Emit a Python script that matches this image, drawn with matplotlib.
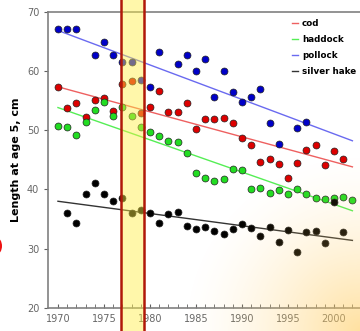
import numpy as np
import matplotlib
matplotlib.use('Agg')
import matplotlib.pyplot as plt
from matplotlib.patches import Rectangle, Ellipse

# значения длины в возрасте 5 лет, см
cod_years = [1970, 1971, 1972, 1973, 1974, 1975, 1976, 1977, 1978, 1979, 1980, 1981, 1982, 1983,
             1984, 1985, 1986, 1987, 1988, 1989, 1990, 1991, 1992, 1993, 1994, 1995, 1996, 1997,
             1998, 1999, 2000, 2001]
cod = [57.2, 53.8, 54.5, 52.2, 55.0, 55.4, 53.3, 57.8, 58.2, 52.8, 53.9, 56.6, 53.1, 53.1,
       54.6, 50.2, 51.9, 51.8, 52.1, 51.2, 48.7, 47.5, 44.6, 45.1, 44.3, 41.9, 44.5, 46.6,
       47.5, 44.1, 46.5, 45.2]

haddock_years = list(range(1970, 2003))
haddock = [50.7, 50.5, 49.2, 51.3, 53.4, 54.7, 52.3, 53.9, 52.4, 50.5, 49.7, 49.0, 48.2, 48.0,
           46.2, 42.8, 42.0, 41.4, 41.8, 43.4, 43.2, 40.1, 40.3, 39.4, 39.9, 39.2, 40.1, 39.3,
           38.6, 38.4, 38.5, 38.8, 38.2]

pollock_years = [1970, 1971, 1972, 1974, 1975, 1976, 1977, 1978, 1979, 1980, 1981, 1983, 1984,
                 1985, 1986, 1987, 1988, 1989, 1990, 1991, 1992, 1993, 1994, 1996, 1997]
pollock = [67.0, 67.0, 67.0, 62.7, 64.9, 62.7, 61.5, 61.5, 58.4, 57.2, 63.1, 61.1, 62.7,
           59.9, 62.0, 55.5, 60.0, 56.5, 54.8, 55.5, 57.0, 51.2, 47.6, 50.4, 51.4]

hake_years = list(range(1971, 2002))
hake = [36.0, 34.3, 39.3, 41.0, 39.3, 38.0, 38.6, 36.0, 36.6, 36.1, 34.3, 35.8, 36.2, 33.9,
        33.3, 33.6, 33.0, 32.4, 33.3, 34.1, 33.5, 32.1, 33.6, 31.2, 33.1, 29.5, 32.8, 33.0,
        30.9, 37.8, 32.8]

# концы линий тренда (1970 и 2002)
trend_years = [1970, 2002]
cod_trend = [57.3, 43.8]
haddock_trend = [53.8, 36.4]
pollock_trend = [66.8, 48.2]
hake_trend = [38.0, 31.4]

fig = plt.figure(figsize=(3.6, 3.31), dpi=100)
ax = fig.add_axes([48.3 / 360, 1 - 308 / 331, (370.8 - 48.3) / 360, (308 - 11.5) / 331])

series = [
    ('cod', cod_years, cod, cod_trend, '#dd0000', '#ee6060'),
    ('haddock', haddock_years, haddock, haddock_trend, '#22dd22', '#55ee55'),
    ('pollock', pollock_years, pollock, pollock_trend, '#0000c8', '#6a6af0'),
    ('silver hake', hake_years, hake, hake_trend, '#000000', '#333333'),
]
for name, xs, ys, tr, c, lc in series:
    ax.plot(trend_years, tr, color=lc, lw=1.0, label=name, zorder=2)
    ax.plot(xs, ys, 'o', color=c, mec='#222222', mew=0.5, ms=5, zorder=3)

# выделенная полоса 1977-1979
band = Rectangle((1976.85, -0.2), 2.5, 1.3, transform=ax.get_xaxis_transform(),
                 facecolor='#ffee44', alpha=0.45, edgecolor='none', zorder=5, clip_on=False)
ax.add_patch(band)
edge = Rectangle((1976.85, -0.2), 2.5, 1.3, transform=ax.get_xaxis_transform(),
                 facecolor='none', edgecolor='#b01808', lw=1.8, zorder=6, clip_on=False)
ax.add_patch(edge)

ax.set_xlim(1968.95, 2004)
ax.set_ylim(20, 70)
ax.set_xticks([1970, 1975, 1980, 1985, 1990, 1995, 2000])
ax.set_xticks(range(1970, 2003), minor=True)
ax.set_yticks([20, 30, 40, 50, 60, 70])
for s in ['left', 'top', 'bottom']:
    ax.spines[s].set_color('#808080')
    ax.spines[s].set_linewidth(1.2)
ax.spines['right'].set_visible(False)
ax.tick_params(axis='x', which='both', direction='in', length=3, color='#606060',
               labelsize=7, labelcolor='#666666', pad=4)
ax.tick_params(axis='y', direction='out', length=3, color='#606060',
               labelsize=7, labelcolor='#666666')
ax.set_ylabel('Length at age 5, cm', fontsize=8, fontweight='bold')
ax.yaxis.set_label_coords(-0.085, 0.5)

leg = ax.legend(loc='upper left', bbox_to_anchor=(0.73, 1.0), frameon=False,
                handlelength=0.7, handletextpad=0.5, labelspacing=0.8,
                prop={'size': 6.3, 'weight': 'bold'})

# красный кружок у левого края
fig.patches.append(Ellipse((-3, 331 - 246), 10, 16, transform=None, facecolor='#ee1111',
                           edgecolor='none'))

# оранжевый градиент в правом нижнем углу
gx, gy = np.meshgrid(np.arange(360), np.arange(331))
d = np.hypot(360 - gx, 331 - gy)
alpha = np.clip(1 - d / 180, 0, 1) ** 1.5 * 0.6
img = np.zeros((331, 360, 4))
img[..., 0] = 1.0
img[..., 1] = 0.8
img[..., 2] = 0.38
img[..., 3] = alpha
ov = fig.add_axes([0, 0, 1, 1], zorder=10)
ov.imshow(img, aspect='auto')
ov.axis('off')

fig.savefig('out.png', dpi=100)
